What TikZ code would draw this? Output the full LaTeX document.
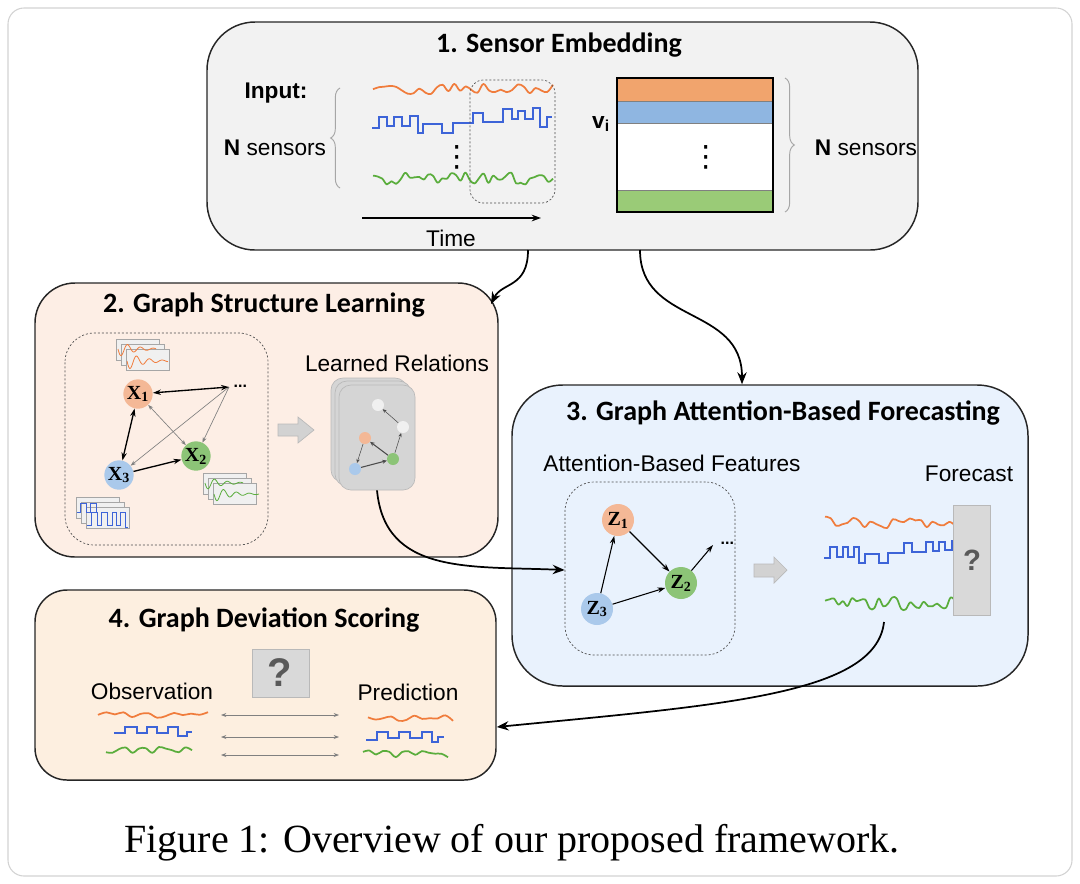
\documentclass[tikz,border=0pt]{standalone}
\usepackage{fontspec}
\setmainfont{Liberation Sans}
\newfontfamily\titlef{Carlito}
\newfontfamily\capf{Liberation Serif}
\newfontfamily\symf{DejaVu Sans}
\usetikzlibrary{arrows.meta,decorations.pathreplacing,fit,calc}
\definecolor{pA}{HTML}{F2F2F2}
\definecolor{pB}{HTML}{FDEEE5}
\definecolor{pC}{HTML}{E9F2FD}
\definecolor{pD}{HTML}{FDEFE0}
\definecolor{wO}{HTML}{F07C3C}
\definecolor{wB}{HTML}{3D64D8}
\definecolor{wG}{HTML}{5AAD3C}
\definecolor{mO}{HTML}{F1A46D}
\definecolor{mB}{HTML}{8FB6E1}
\definecolor{mG}{HTML}{9ACB77}
\definecolor{nO}{HTML}{F4B896}
\definecolor{nB}{HTML}{AAC9EB}
\definecolor{nG}{HTML}{8CC477}
% random smooth wave: x0, y, length, amplitude, colour, seed, samples
\newcommand{\rwave}[7]{%
  \pgfmathsetseed{#6}%
  \draw[#5, line width=1.3pt, line join=round] plot[smooth, tension=0.6, domain=0:#3, samples=#7]
   ({#1+\x},{#2+#4*rand});}
\newcommand{\dampwave}[5]{%
  \draw[#4, line width=0.6pt] plot[domain=0:#3, samples=80]
   ({#1+\x},{#2+#5*exp(-\x/16)*sin(\x*28)});}
\newcommand{\chartstack}[2]{%
  \foreach \k in {0,1,2}{
    \draw[gray!70, fill=gray!12, line width=0.5pt] ({#1+5*\k},{#2+5*\k}) rectangle ++(43,21);}}
\tikzset{
  panel/.style={draw=black!85, line width=1.1pt, inner sep=0pt},
  ttl/.style={font=\titlef\bfseries\fontsize{21}{24}\selectfont},
  lbl/.style={font=\fontsize{17}{20}\selectfont},
  gnode/.style={circle, minimum size=22pt, inner sep=0pt, font=\capf\bfseries\fontsize{15}{16}\selectfont},
  znode/.style={circle, minimum size=24pt, inner sep=0pt, font=\capf\bfseries\fontsize{15}{16}\selectfont},
  snode/.style={circle, minimum size=9pt, inner sep=0pt},
  conn/.style={line width=1.3pt, -{Stealth[length=9pt,width=7pt]}},
  thick2/.style={line width=1pt, {Stealth[length=6pt,width=4pt]}-{Stealth[length=6pt,width=4pt]}},
  thin2/.style={gray, line width=0.5pt, {Stealth[length=4pt,width=3pt]}-{Stealth[length=4pt,width=3pt]}},
  thin1/.style={gray, line width=0.5pt, -{Stealth[length=4pt,width=3pt]}},
  zarr/.style={line width=0.8pt, -{Stealth[length=6pt,width=4pt]}},
  dbox/.style={draw=black!70, dashed, dash pattern=on 1.5pt off 1.5pt, line width=0.5pt},
  blockarr/.style={fill=gray!35, draw=gray!55, line width=0.5pt},
  qbox/.style={fill=gray!30, draw=gray!55, line width=0.6pt, inner sep=0pt},
  sqw/.style={wB, line width=1.3pt, line join=miter},
  vdt/.style={font=\symf\fontsize{22}{24}\selectfont},
}
\begin{document}
\begin{tikzpicture}[x=0.75pt,y=-0.75pt]
\useasboundingbox (0,0) rectangle (1080,883);
\draw[gray!35, line width=0.8pt, rounded corners=12] (8,8) rectangle (1072,876);

% ---------- panel 1
\node[panel, fill=pA, rounded corners=36, fit={(207,22) (918,250)}] (p1) {};
\node[ttl] (t1) at (559,45) {1. Sensor Embedding};
\node[font=\bfseries\fontsize{17}{20}\selectfont] (inp) at (276,93) {Input:};
\node[lbl] (ns1) at (275,148) {\textbf{N} sensors};
\draw[gray!70, line width=0.7pt, decorate, decoration={brace, amplitude=7pt}] (340,188) -- (340,88);
\rwave{373}{89}{180}{6}{wO}{11}{32}
\draw[sqw] (372,128) \foreach \a/\b in {379/117,387/126,394/117,402/126,410/116,418/133,423/124,442/133,453/123,473/113,483/122,503/109,512/119,518/111,525/119,533/108,540/127,547/117,552/117}{ -| (\a,\b) };
\node[vdt] (vd1) at (457,157) {⋮};
\rwave{373}{179}{180}{6.5}{wG}{23}{40}
\draw[dbox, rounded corners=10] (470,80) rectangle (555,203);
\coordinate (ta) at (362,218);
\coordinate (tb) at (541,218);
\draw[line width=1pt, -{Stealth[length=7pt,width=5pt]}] (ta) -- (tb);
\node[lbl] (time) at (451,238) {Time};
% matrix
\fill[mO] (617,78) rectangle (773,101);
\fill[mB] (617,101) rectangle (773,123);
\fill[white] (617,123) rectangle (773,190);
\fill[mG] (617,190) rectangle (773,212);
\draw[gray, line width=0.6pt] (617,101) -- (773,101) (617,123) -- (773,123) (617,190) -- (773,190);
\draw[black, line width=1.3pt] (617,78) rectangle (773,212);
\node[font=\bfseries\fontsize{17}{20}\selectfont] (vi) at (601,124) {v\textsubscript{i}};
\node[vdt] (vd2) at (706,157) {⋮};
\draw[gray!70, line width=0.7pt, decorate, decoration={brace, amplitude=7pt}] (785,78) -- (785,212);
\node[lbl] (ns2) at (866,148) {\textbf{N} sensors};

% ---------- panel 2
\node[panel, fill=pB, rounded corners=30, fit={(35,283) (498,557)}] (p2) {};
\node[ttl] (t2) at (264,305) {2. Graph Structure Learning};
\draw[dbox, rounded corners=22] (65,333) rectangle (268,545);
\chartstack{116}{339}
\dampwave{118}{349}{38}{wO}{8}
\dampwave{127}{361}{41}{wO}{9}
\chartstack{203}{473}
\dampwave{205}{483}{38}{wG}{7}
\dampwave{214}{494}{45}{wG}{8}
\chartstack{76}{497}
\draw[wB, line width=0.6pt] (77,512) -| (80,503) -| (86,512) -| (90,503) -| (96,512);
\draw[wB, line width=0.6pt] (87,525) -| (91,512) -| (97,525) -| (101,512) -| (107,525) -| (112,512) -| (116,525) -| (120,512) -| (125,527) -- (128,527);
\node[gnode, fill=nO] (x1) at (138,394) {X\textsubscript{1}};
\node[gnode, fill=nG] (x2) at (196,456) {X\textsubscript{2}};
\node[gnode, fill=nB] (x3) at (119,475) {X\textsubscript{3}};
\coordinate (xd) at (229,387);
\node[font=\bfseries\fontsize{12}{12}\selectfont, anchor=west] (xdots) at (229,386) {...};
\draw[thin2] (x1) -- (x2);
\draw[thin1] (xd) -- (x3);
\draw[thin1] (xd) -- (x2);
\draw[thick2] (x1) -- (xd);
\draw[thick2] (x1) -- (x3);
\draw[line width=1pt, -{Stealth[length=6pt,width=4pt]}] (x3) -- (x2);
\draw[blockarr] (278,424) -- (298,424) -- (298,417) -- (314,430) -- (298,443) -- (298,436) -- (278,436) -- cycle;
\node[lbl] (lr) at (397,363) {Learned Relations};
\draw[fill=gray!33, draw=gray!55, line width=0.5pt, rounded corners=9] (331,378) rectangle (407,482);
\draw[fill=gray!33, draw=gray!55, line width=0.5pt, rounded corners=9] (335,381) rectangle (411,486);
\node[fill=gray!33, draw=gray!55, line width=0.5pt, rounded corners=9, fit={(339,385) (415,490)}, inner sep=0pt] (lrel) {};
\node[snode, fill=gray!12] (s1) at (378,405) {};
\node[snode, fill=gray!12] (s2) at (403,427) {};
\node[snode, fill=nO] (s3) at (365,438) {};
\node[snode, fill=nG] (s4) at (393,459) {};
\node[snode, fill=nB] (s5) at (355,469) {};
\draw[gray!60!black, line width=0.4pt, -{Stealth[length=3pt,width=2.5pt]}] (s2) -- (s1);
\draw[gray!60!black, line width=0.4pt, -{Stealth[length=3pt,width=2.5pt]}] (s4) -- (s2);
\draw[gray!60!black, line width=0.8pt, -{Stealth[length=3.5pt,width=3pt]}] (s4) -- (s3);
\draw[gray!60!black, line width=0.4pt, -{Stealth[length=3pt,width=2.5pt]}] (s3) -- (s5);
\draw[gray!60!black, line width=0.8pt, -{Stealth[length=3.5pt,width=3pt]}] (s5) -- (s4);

% ---------- panel 3
\node[panel, fill=pC, rounded corners=38, fit={(512,385) (1028,686)}] (p3) {};
\node[ttl] (t3) at (783,413) {3. Graph Attention-Based Forecasting};
\node[lbl] (abf) at (672,463) {Attention-Based Features};
\node[dbox, rounded corners=22, fit={(565,482) (735,655)}, inner sep=0pt] (zbox) {};
\node[znode, fill=nO] (z1) at (618,520) {Z\textsubscript{1}};
\node[znode, fill=nG] (z2) at (681,583) {Z\textsubscript{2}};
\node[znode, fill=nB] (z3) at (597,609) {Z\textsubscript{3}};
\coordinate (zd) at (713,545);
\node[font=\bfseries\fontsize{12}{12}\selectfont, anchor=west] (zdots) at (716,543) {...};
\draw[zarr] (z3) -- (z1);
\draw[zarr] (z1) -- (z2);
\draw[zarr] (z3) -- (z2);
\draw[zarr] (z2) -- (zd);
\draw[blockarr] (754,564) -- (774,564) -- (774,557) -- (787,570) -- (774,583) -- (774,577) -- (754,577) -- cycle;
\node[lbl] (fc) at (969,474) {Forecast};
\rwave{825}{522}{130}{6}{wO}{31}{24}
\draw[sqw] (824,558) \foreach \a/\b in {830/547,837/557,843/547,848/557,854/547,859/563,865/554,879/563,888/553,904/543,912/552,926/542,933/551,939/542,945/550,952/541,955/541}{ -| (\a,\b) };
\rwave{825}{603}{130}{6.5}{wG}{47}{30}
\node[qbox, fit={(953,505) (990,615)}] (fq) {};
\node[font=\bfseries\fontsize{22}{22}\selectfont, text=gray!70!black] (fqm) at (972,560) {?};

% ---------- panel 4
\node[panel, fill=pD, rounded corners=24, fit={(35,590) (496,780)}] (p4) {};
\node[ttl] (t4) at (264,620) {4. Graph Deviation Scoring};
\node[qbox, fit={(252,649) (309,697)}] (sq) {};
\node[font=\bfseries\fontsize{30}{30}\selectfont, text=gray!70!black] (sqm) at (280,673) {?};
\node[lbl] (obs) at (152,691) {Observation};
\node[lbl] (pred) at (408,692) {Prediction};
\rwave{98}{715}{110}{3}{wO}{5}{14}
\draw[sqw] (114,733) \foreach \a/\b in {125/727,137/733,147/727,157/733,168/727,178/736,187/732,192/732}{ -| (\a,\b) };
\rwave{106}{750}{86}{3.5}{wG}{8}{14}
\rwave{368}{719}{85}{4}{wO}{13}{12}
\draw[sqw] (366,740) \foreach \a/\b in {377/732,388/738,399/732,410/738,422/732,432/742,438/737,444/737}{ -| (\a,\b) };
\rwave{363}{754}{85}{3.5}{wG}{17}{14}
\coordinate (oa1) at (221,715); \coordinate (ob1) at (339,715);
\coordinate (oa2) at (221,737); \coordinate (ob2) at (339,737);
\coordinate (oa3) at (221,755); \coordinate (ob3) at (339,755);
\draw[thin2] (oa1) -- (ob1);
\draw[thin2] (oa2) -- (ob2);
\draw[thin2] (oa3) -- (ob3);

% ---------- connectors
\coordinate (c1s) at (528,250);
\coordinate (c1e) at (491,304);
\draw[conn] (c1s) .. controls (528,288) and (502,282) .. (c1e);
\coordinate (c2s) at (640,250);
\draw[conn] (c2s) .. controls (640,325) and (742,305) .. (p3.north -| 742,0);
\draw[conn] (lrel.south) .. controls (385,575) and (470,566) .. (zbox.west |- 0,570);
\coordinate (c4s) at (884,622);
\draw[conn] (c4s) .. controls (876,695) and (720,705) .. (p4.east |- 0,727);

% ---------- caption
\node[font=\capf\fontsize{30}{34}\selectfont] (cap) at (512,843) {Figure 1: Overview of our proposed framework.};
\end{tikzpicture}
\end{document}
